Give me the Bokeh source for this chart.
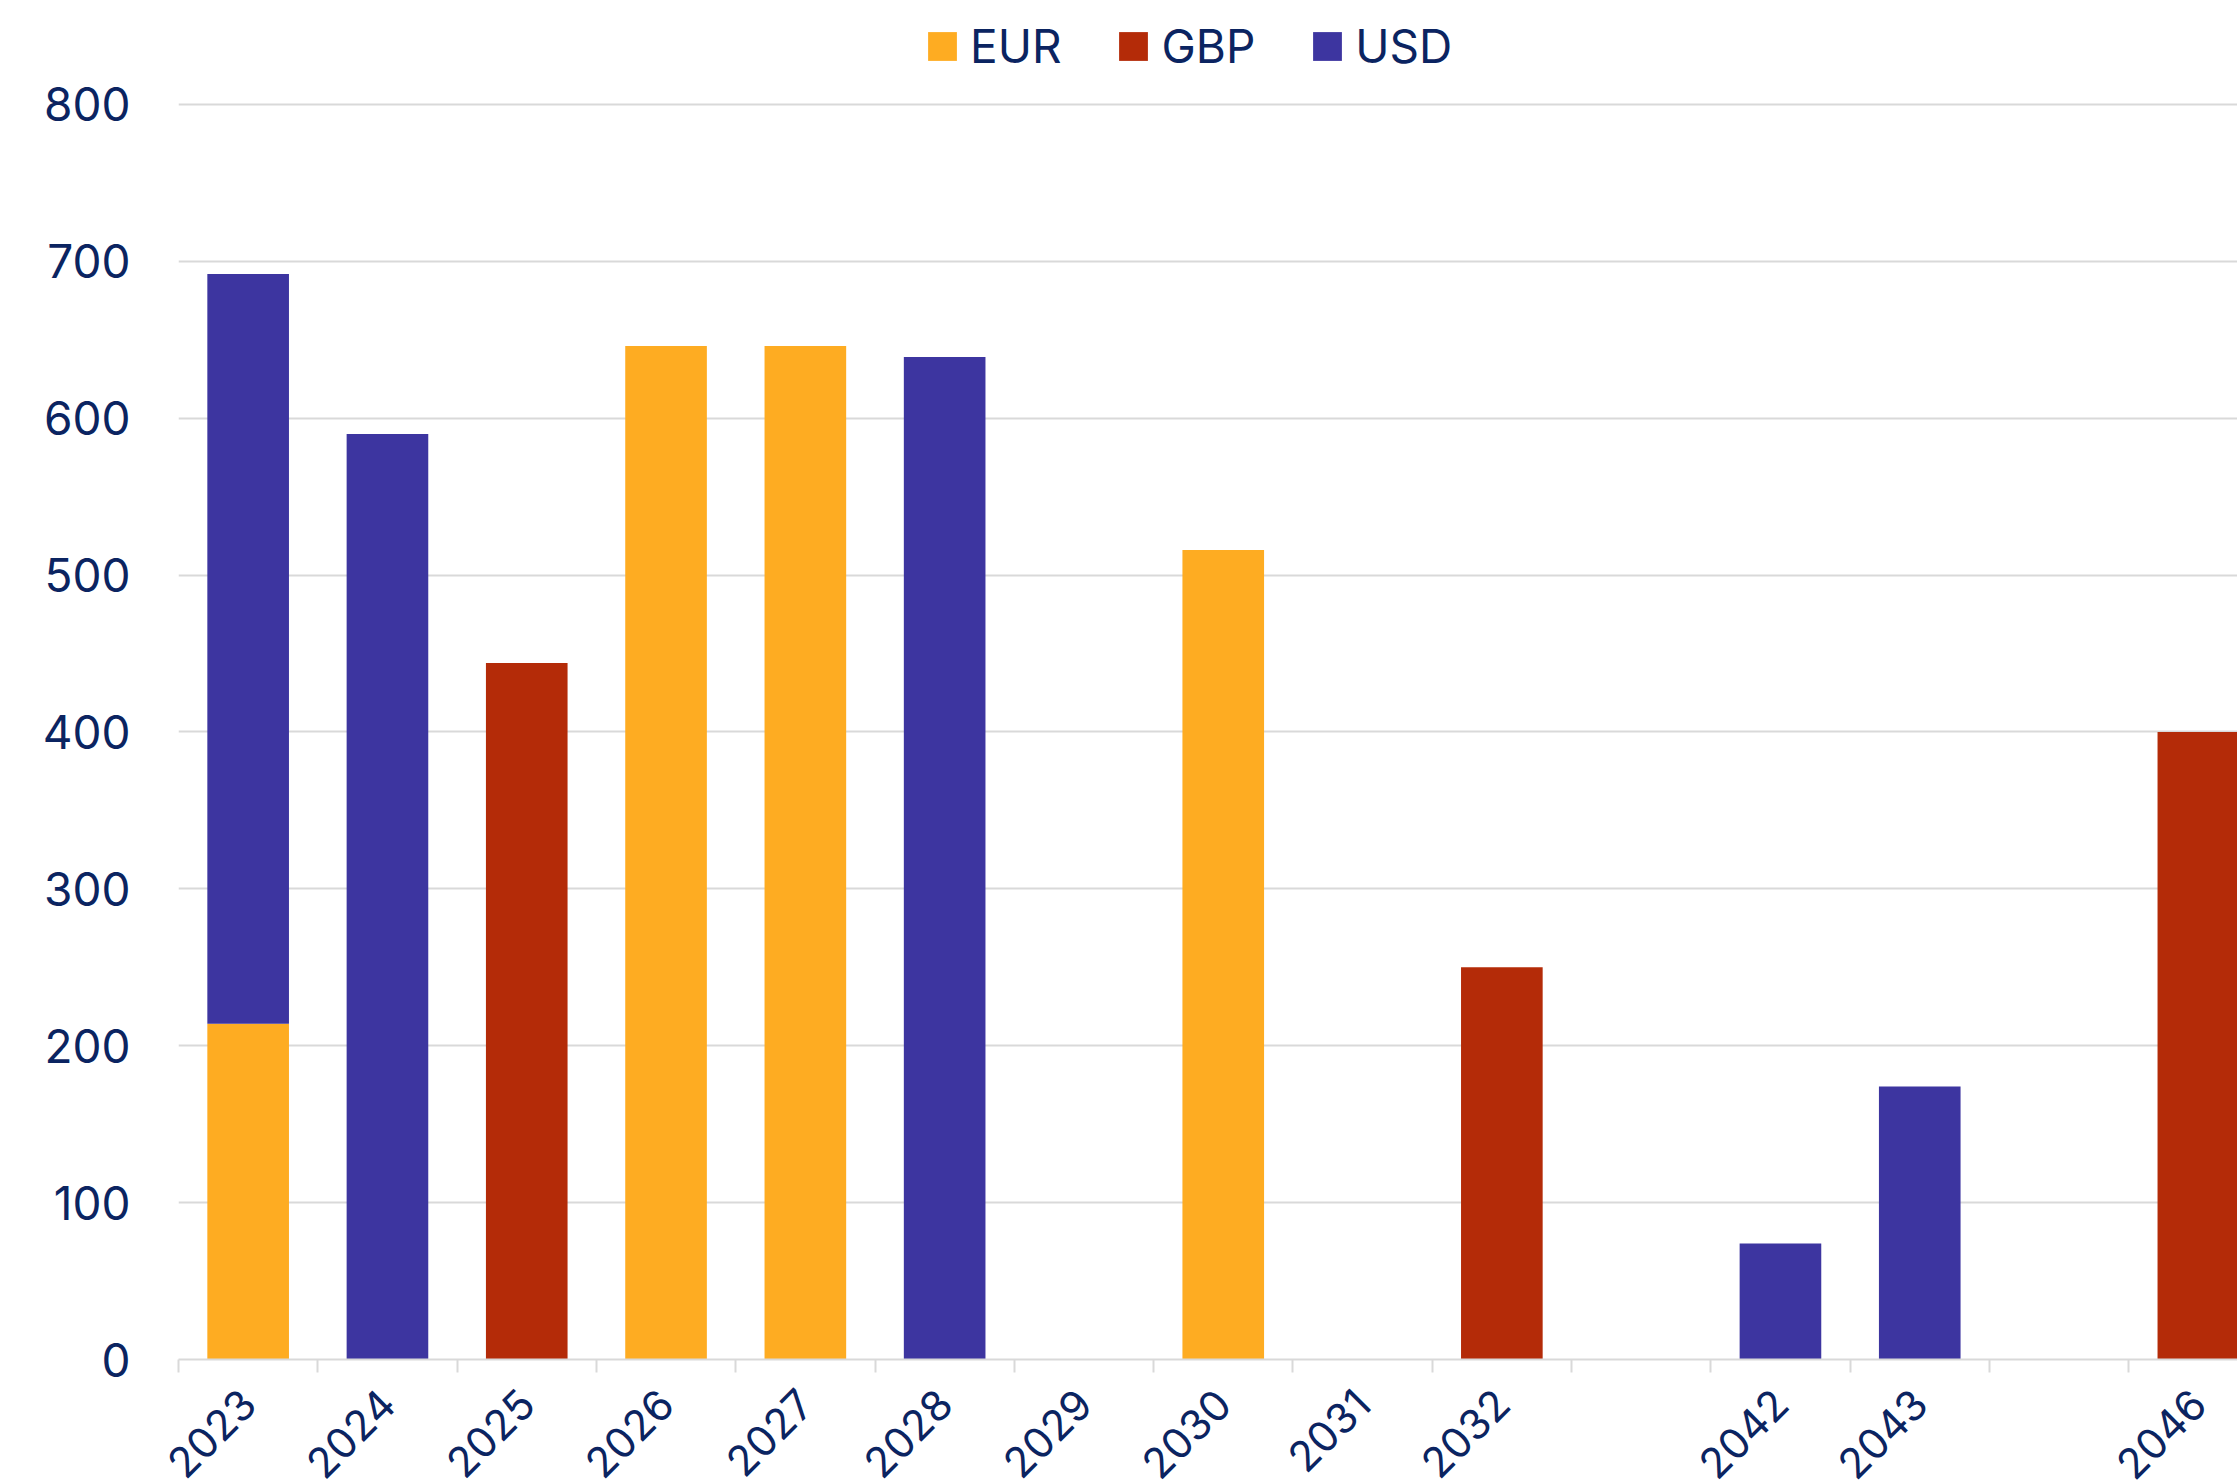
import math
from bokeh.plotting import figure
from bokeh.models import Range1d, FixedTicker, ColumnDataSource, GlobalInlineStyleSheet
from bokeh.embed import file_html
from bokeh.resources import INLINE

# ---- data ----
categories = ["2023", "2024", "2025", "2026", "2027", "2028", "2029", "2030",
              "2031", "2032", "", "2042", "2043", "", "2046"]
eur = [214, 0, 0, 646, 646, 0, 0, 516, 0, 0, 0, 0, 0, 0, 0]
gbp = [0, 0, 444, 0, 0, 0, 0, 0, 0, 250, 0, 0, 0, 0, 400]
usd = [478, 590, 0, 0, 0, 639, 0, 0, 0, 0, 0, 74, 174, 0, 0]
series = ["EUR", "GBP", "USD"]
colors = ["#FEAC22", "#B42B08", "#3D35A0"]
y_ticks = [0, 100, 200, 300, 400, 500, 600, 700, 800]

TEXT = "#0B2461"
FONT = "Inter"
GRID = "#D9D9D9"

xs = [i + 0.5 for i in range(len(categories))]
source = ColumnDataSource(dict(x=xs, cat=categories, EUR=eur, GBP=gbp, USD=usd))

cat_px = 139.3
unit_px = 1.5688
frame_w = 2059
frame_h = 1351

p = figure(frame_width=frame_w, frame_height=frame_h,
           x_range=Range1d(0, frame_w / cat_px), y_range=Range1d(0, frame_h / unit_px),
           output_backend="svg", toolbar_location=None,
           min_border_left=178, min_border_right=0, min_border_top=8, min_border_bottom=0)
p.outline_line_color = None
p.background_fill_color = "white"
p.border_fill_color = "white"
p.stylesheets = [GlobalInlineStyleSheet(css="html, body { overflow: hidden; }")]

p.vbar_stack(series, x="x", width=0.586, source=source, fill_color=colors,
             line_color=None, legend_label=series)

# grid
p.xgrid.visible = False
p.ygrid.ticker = FixedTicker(ticks=y_ticks)
p.ygrid.grid_line_color = GRID
p.ygrid.grid_line_width = 2

# y axis
p.yaxis.ticker = FixedTicker(ticks=y_ticks)
p.yaxis.axis_line_color = None
p.yaxis.major_tick_line_color = None
p.yaxis.minor_tick_line_color = None
p.yaxis.major_tick_out = 0
p.yaxis.major_tick_in = 0
p.yaxis.major_label_standoff = 48
p.yaxis.major_label_text_font = FONT
p.yaxis.major_label_text_font_size = "46px"
p.yaxis.major_label_text_color = TEXT

# x axis
p.xaxis.ticker = FixedTicker(ticks=xs, minor_ticks=list(range(len(categories) + 1)))
p.xaxis.major_label_overrides = {x: c for x, c in zip(xs, categories)}
p.xaxis.axis_line_color = GRID
p.xaxis.axis_line_width = 2
p.xaxis.major_tick_line_color = None
p.xaxis.major_tick_out = 0
p.xaxis.major_tick_in = 0
p.xaxis.minor_tick_line_color = GRID
p.xaxis.minor_tick_line_width = 2
p.xaxis.minor_tick_out = 13
p.xaxis.minor_tick_in = 0
p.xaxis.major_label_orientation = math.pi / 4
p.xaxis.major_label_standoff = 24
p.xaxis.major_label_text_font = FONT
p.xaxis.major_label_text_font_size = "42px"
p.xaxis.major_label_text_color = TEXT

# legend
lg = p.legend[0]
lg.orientation = "horizontal"
lg.location = (746, frame_h - 66)
lg.label_text_font = FONT
lg.label_text_font_size = "46px"
lg.label_text_color = TEXT
lg.glyph_width = 36
lg.glyph_height = 36
lg.label_standoff = 10
lg.spacing = 54
lg.padding = 0
lg.margin = 0
lg.border_line_color = None
lg.background_fill_alpha = 0

open("out.html", "w").write(file_html(p, INLINE))
